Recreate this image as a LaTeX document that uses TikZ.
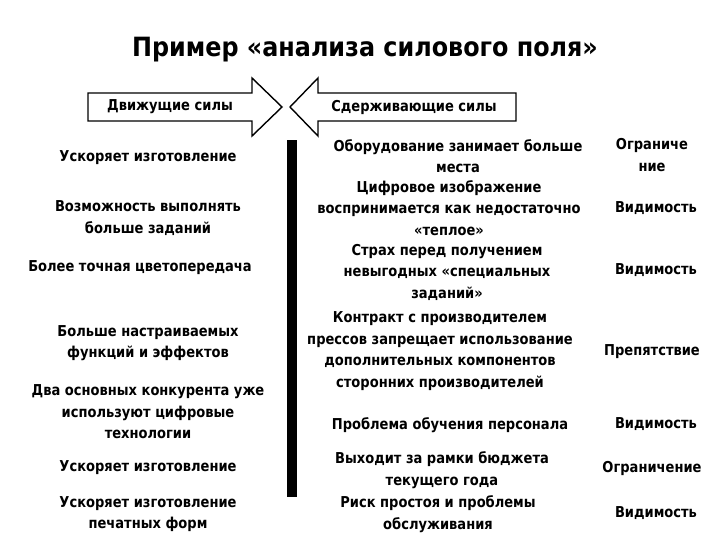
\documentclass[tikz,border=0pt]{standalone}
\usepackage{fontspec}
\setmainfont{DejaVu Sans}[FakeStretch=0.87]
\newfontfamily\titlefont{DejaVu Sans}[FakeStretch=0.9]
\begin{document}
\begin{tikzpicture}[x=1pt,y=-1pt,
  txt/.style={font=\bfseries\fontsize{15}{21.5}\selectfont, align=center, inner sep=0pt},
  arr/.style={draw=black, line width=1.4pt, fill=white, line join=miter}]
\useasboundingbox (0,0) rectangle (720,540);
\node[font=\titlefont\bfseries\fontsize{26.5}{30}\selectfont] (title) at (365,50) {Пример «анализа силового поля»};
% arrows
\draw[arr] (88,93) -- (252,93) -- (252,78) -- (282,107) -- (252,136) -- (252,121) -- (88,121) -- cycle;
\draw[arr] (516,93) -- (318,93) -- (318,78) -- (290,107) -- (318,136) -- (318,121) -- (516,121) -- cycle;
\node[txt] (drv) at (170,107) {Движущие силы};
\node[txt] (rst) at (414,107) {Сдерживающие силы};
% bar
\fill (287,140) rectangle (297,497);
% left
\node[txt] (l1) at (148,158) {Ускоряет изготовление};
\node[txt] (l2) at (148,218) {Возможность выполнять\\больше заданий};
\node[txt] (l3) at (140,268) {Более точная цветопередача};
\node[txt] (l4) at (148,343) {Больше настраиваемых\\функций и эффектов};
\node[txt] (l5) at (148,412) {Два основных конкурента уже\\используют цифровые\\технологии};
\node[txt] (l6) at (148,468) {Ускоряет изготовление};
\node[txt] (l7) at (148,514) {Ускоряет изготовление\\печатных форм};
% middle
\node[txt] (m1) at (458,156) {Оборудование занимает больше\\места};
\node[txt] (m2) at (449,208) {Цифровое изображение\\воспринимается как недостаточно\\«теплое»};
\node[txt] (m3) at (447,272) {Страх перед получением\\невыгодных «специальных\\заданий»};
\node[txt] (m4) at (440,351) {Контракт с производителем\\прессов запрещает использование\\дополнительных компонентов\\сторонних производителей};
\node[txt] (m5) at (450,425) {Проблема обучения персонала};
\node[txt] (m6) at (442,470) {Выходит за рамки бюджета\\текущего года};
\node[txt] (m7) at (438,514) {Риск простоя и проблемы\\обслуживания};
% right
\node[txt] (r1) at (652,155) {Ограниче\\ние};
\node[txt] (r2) at (656,208) {Видимость};
\node[txt] (r3) at (656,270) {Видимость};
\node[txt] (r4) at (652,352) {Препятствие};
\node[txt] (r5) at (656,424) {Видимость};
\node[txt] (r6) at (652,468) {Ограничение};
\node[txt] (r7) at (656,513) {Видимость};
\end{tikzpicture}
\end{document}
